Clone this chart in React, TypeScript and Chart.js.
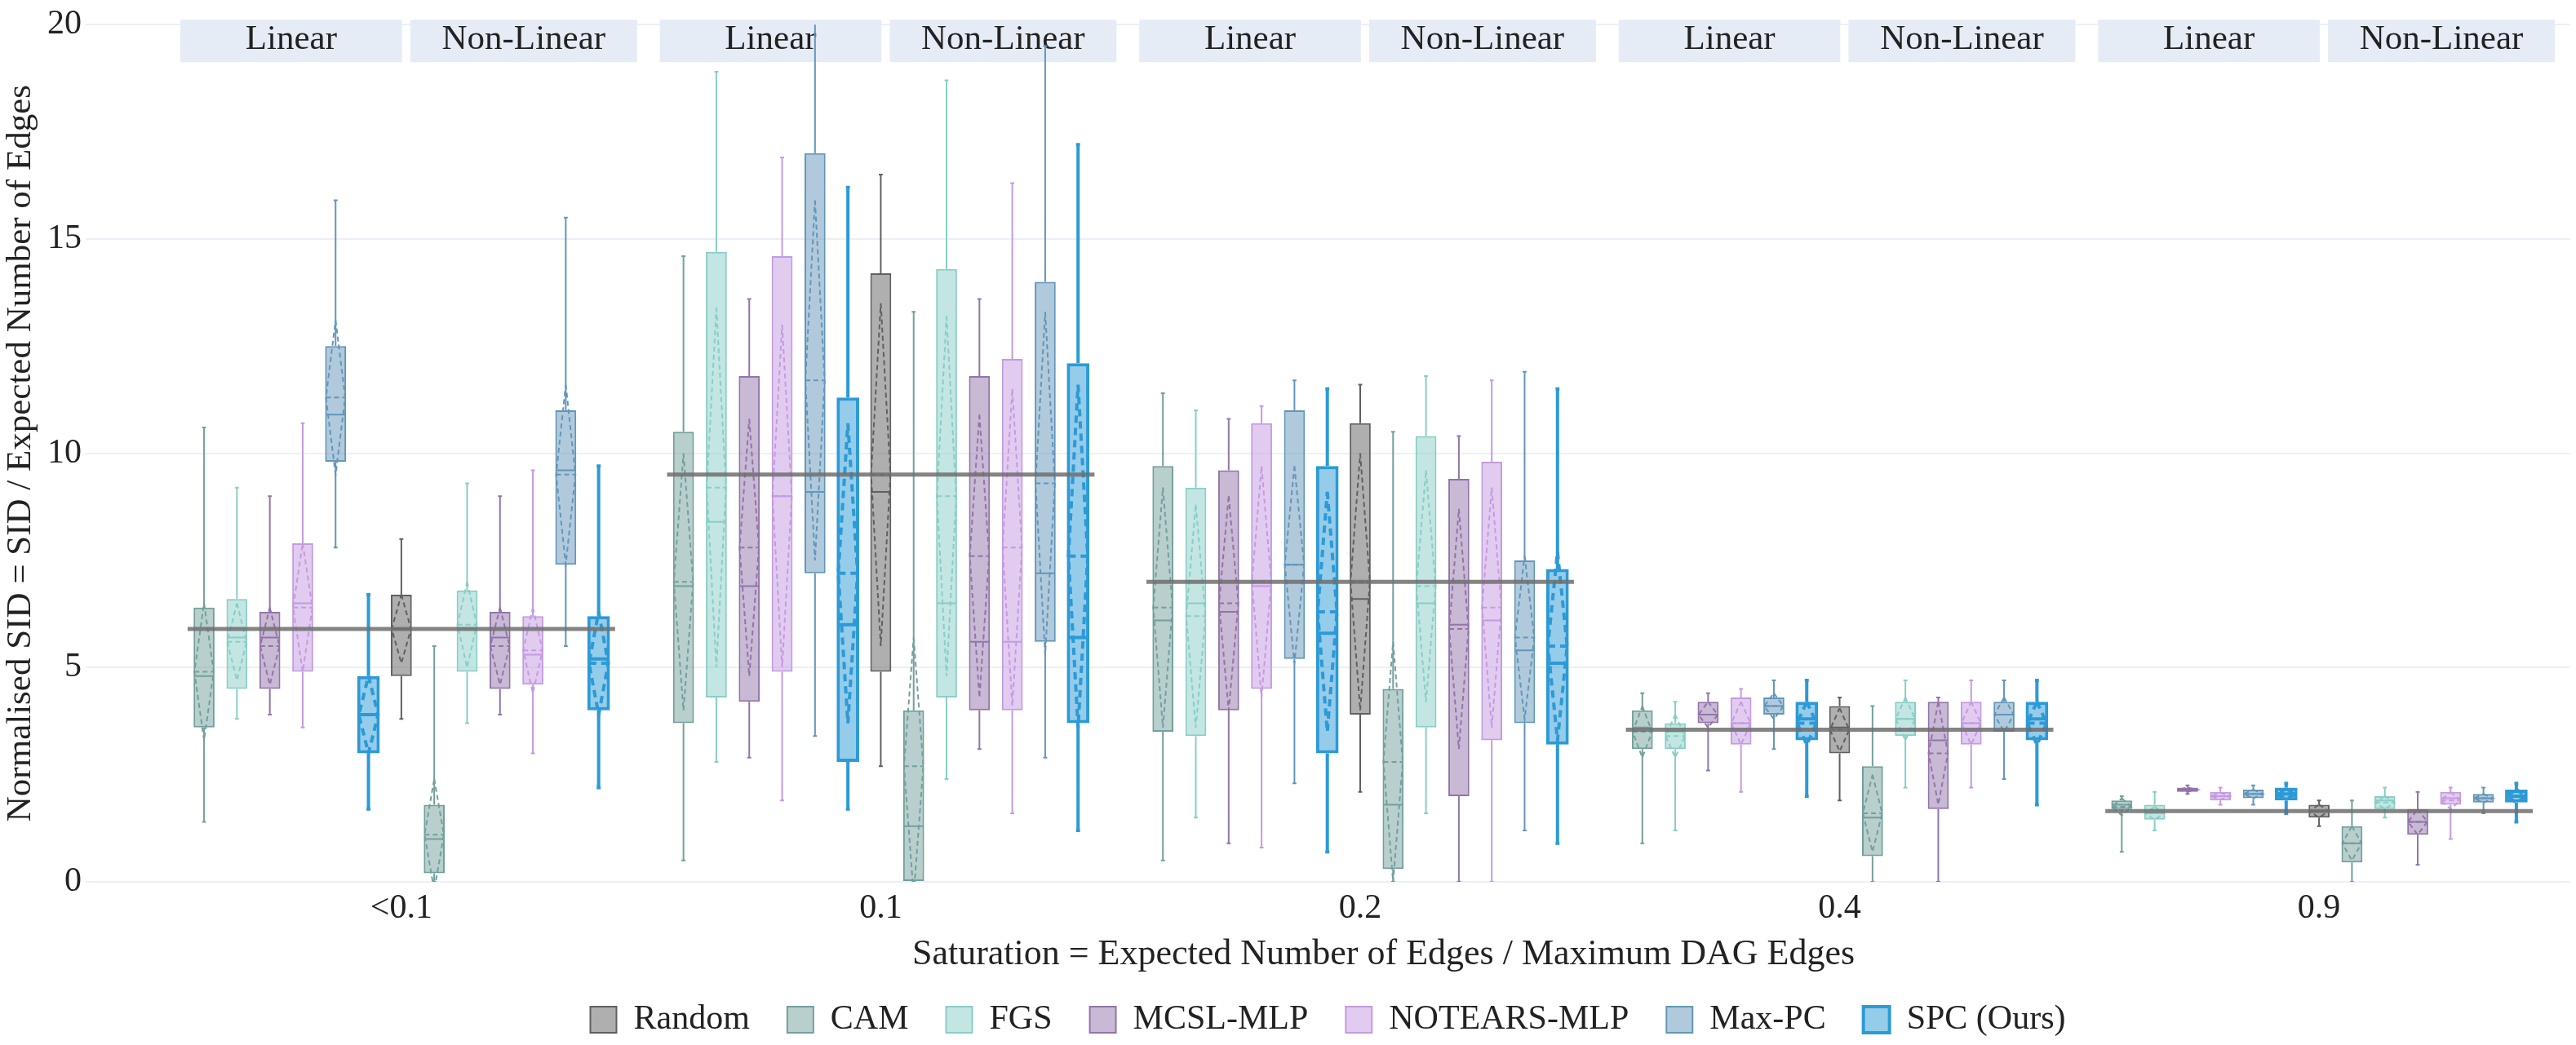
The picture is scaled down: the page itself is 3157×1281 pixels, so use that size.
import React, { useEffect, useRef } from 'react';
import { Chart, registerables } from 'chart.js';

Chart.register(...registerables);

// ---------------- data ----------------
const saturationLabels = ['<0.1', '0.1', '0.2', '0.4', '0.9'];
const methodNames = ['Random', 'CAM', 'FGS', 'MCSL-MLP', 'NOTEARS-MLP', 'Max-PC', 'SPC (Ours)'];
const facetLabels = ['Linear', 'Non-Linear'];
const xTitle = 'Saturation = Expected Number of Edges / Maximum DAG Edges';
const yTitle = 'Normalised SID = SID / Expected Number of Edges';

// each row: [min, q1, median, q3, max, mean, sd] for one saturation group
const randomStats = [
  [3.8, 4.8, 5.9, 6.7, 8.0, 5.9, 0.8],
  [2.7, 4.9, 9.1, 14.2, 16.5, 9.5, 4.0],
  [2.1, 3.9, 6.6, 10.7, 11.6, 7.0, 3.0],
  [1.9, 3.0, 3.6, 4.1, 4.3, 3.55, 0.5],
  [1.3, 1.5, 1.65, 1.8, 1.9, 1.65, 0.15],
];
const camLinear = [
  [1.4, 3.6, 4.8, 6.4, 10.6, 4.9, 1.6],
  [0.5, 3.7, 6.9, 10.5, 14.6, 7.0, 3.0],
  [0.5, 3.5, 6.1, 9.7, 11.4, 6.4, 2.8],
  [0.9, 3.1, 3.6, 4.0, 4.4, 3.5, 0.6],
  [0.7, 1.7, 1.8, 1.9, 2.0, 1.75, 0.2],
];
const camNonLinear = [
  [0.0, 0.2, 1.0, 1.8, 5.5, 1.1, 1.3],
  [0.0, 0.0, 1.3, 4.0, 13.3, 2.7, 3.0],
  [0.0, 0.3, 1.8, 4.5, 10.5, 2.8, 2.8],
  [0.0, 0.6, 1.5, 2.7, 4.1, 1.6, 0.9],
  [0.0, 0.45, 0.9, 1.3, 1.9, 0.9, 0.4],
];
const fgsLinear = [
  [3.8, 4.5, 5.7, 6.6, 9.2, 5.6, 0.9],
  [2.8, 4.3, 8.4, 14.7, 18.9, 9.2, 4.2],
  [1.5, 3.4, 6.5, 9.2, 11.0, 6.2, 2.6],
  [1.2, 3.1, 3.5, 3.7, 4.2, 3.4, 0.5],
  [1.2, 1.45, 1.6, 1.8, 2.1, 1.6, 0.15],
];
const fgsNonLinear = [
  [3.7, 4.9, 5.9, 6.8, 9.3, 6.0, 1.0],
  [2.4, 4.3, 6.5, 14.3, 18.7, 9.0, 4.2],
  [1.6, 3.6, 6.5, 10.4, 11.8, 6.9, 2.7],
  [2.2, 3.4, 3.8, 4.2, 4.7, 3.8, 0.5],
  [1.5, 1.7, 1.9, 2.0, 2.2, 1.85, 0.15],
];
const mcslLinear = [
  [3.9, 4.5, 5.7, 6.3, 9.0, 5.5, 0.9],
  [2.9, 4.2, 6.9, 11.8, 13.6, 7.8, 3.0],
  [0.9, 4.0, 6.3, 9.6, 10.8, 6.5, 2.5],
  [2.6, 3.7, 3.9, 4.2, 4.4, 3.9, 0.3],
  [2.05, 2.1, 2.15, 2.2, 2.25, 2.15, 0.05],
];
const mcslNonLinear = [
  [3.9, 4.5, 5.7, 6.3, 9.0, 5.5, 0.9],
  [3.1, 4.0, 5.6, 11.8, 13.6, 7.6, 3.3],
  [0.0, 2.0, 6.0, 9.4, 10.4, 5.9, 2.8],
  [0.0, 1.7, 3.3, 4.2, 4.3, 3.0, 1.2],
  [0.4, 1.1, 1.4, 1.7, 2.1, 1.4, 0.3],
];
const notearsLinear = [
  [3.6, 4.9, 6.5, 7.9, 10.7, 6.4, 1.5],
  [1.9, 4.9, 9.0, 14.6, 16.9, 9.0, 4.0],
  [0.8, 4.5, 6.9, 10.7, 11.1, 7.0, 2.7],
  [2.1, 3.2, 3.7, 4.3, 4.5, 3.7, 0.5],
  [1.8, 1.9, 2.0, 2.1, 2.2, 2.0, 0.08],
];
const notearsNonLinear = [
  [3.0, 4.6, 5.3, 6.2, 9.6, 5.4, 1.0],
  [1.6, 4.0, 5.6, 12.2, 16.3, 7.8, 3.7],
  [0.0, 3.3, 6.1, 9.8, 11.7, 6.4, 2.8],
  [2.2, 3.2, 3.7, 4.2, 4.7, 3.7, 0.5],
  [1.0, 1.8, 1.95, 2.1, 2.2, 1.9, 0.2],
];
const maxpcLinear = [
  [7.8, 9.8, 10.9, 12.5, 15.9, 11.3, 1.8],
  [3.4, 7.2, 9.1, 17.0, 21.0, 11.7, 4.2],
  [2.3, 5.2, 7.4, 11.0, 11.7, 7.4, 2.3],
  [3.1, 3.9, 4.1, 4.3, 4.7, 4.1, 0.3],
  [1.8, 1.95, 2.05, 2.15, 2.25, 2.05, 0.1],
];
const maxpcNonLinear = [
  [5.5, 7.4, 9.6, 11.0, 15.5, 9.5, 2.1],
  [2.9, 5.6, 7.2, 14.0, 19.5, 9.3, 4.0],
  [1.2, 3.7, 5.4, 7.5, 11.9, 5.7, 1.9],
  [2.4, 3.5, 3.9, 4.2, 4.7, 3.9, 0.4],
  [1.6, 1.85, 1.95, 2.05, 2.2, 1.95, 0.1],
];
const spcLinear = [
  [1.7, 3.0, 3.9, 4.8, 6.7, 3.9, 0.9],
  [1.7, 2.8, 6.0, 11.3, 16.2, 7.2, 3.5],
  [0.7, 3.0, 5.8, 9.7, 11.5, 6.3, 2.8],
  [2.0, 3.3, 3.8, 4.2, 4.7, 3.7, 0.5],
  [1.6, 1.9, 2.05, 2.2, 2.3, 2.05, 0.12],
];
const spcNonLinear = [
  [2.2, 4.0, 5.2, 6.2, 9.7, 5.1, 1.2],
  [1.2, 3.7, 5.7, 12.1, 17.2, 7.6, 4.0],
  [0.9, 3.2, 5.1, 7.3, 11.5, 5.5, 2.2],
  [1.8, 3.3, 3.8, 4.2, 4.7, 3.7, 0.5],
  [1.4, 1.85, 2.0, 2.15, 2.3, 2.0, 0.15],
];

const linearStats = [null, camLinear, fgsLinear, mcslLinear, notearsLinear, maxpcLinear, spcLinear];
const nonLinearStats = [null, camNonLinear, fgsNonLinear, mcslNonLinear, notearsNonLinear, maxpcNonLinear, spcNonLinear];

// ---------------- styles ----------------
const methodRGB = [
  [96, 96, 96],
  [114, 160, 156],
  [136, 206, 198],
  [146, 116, 170],
  [196, 154, 226],
  [98, 150, 186],
  [44, 154, 214],
];
const methodLineWidths = [2, 2, 2, 2, 2, 2, 4];
const methodDash = [[6, 4], [6, 4], [6, 4], [6, 4], [6, 4], [6, 4], [9, 6]];
const FONT = '"Liberation Serif", "Times New Roman", serif';
const TEXT = '#222222';
const GRID = '#EBF0F8';
const STRIP = '#E6ECF5';
const GROUP_SPACING = 14.58;
const HALF_W = 0.294;
const CAP = 0.06;
const stripSpans = [[-6.72, 0.02], [0.27, 7.17]];

const groupCenters = saturationLabels.map((_, i) => i * GROUP_SPACING);
const rgb = (c: number[], a = 1) => `rgba(${c[0]},${c[1]},${c[2]},${a})`;

function buildDatasets() {
  const boxDs: any[] = [];
  const extraDs: any[] = [];
  methodNames.forEach((name, m) => {
    const boxes: { x: number; s: number[] }[] = [];
    groupCenters.forEach((c, g) => {
      if (m === 0) {
        boxes.push({ x: c, s: randomStats[g] });
      } else {
        boxes.push({ x: c - (7 - m), s: (linearStats[m] as number[][])[g] });
        boxes.push({ x: c + m, s: (nonLinearStats[m] as number[][])[g] });
      }
    });
    const col = methodRGB[m];
    const lw = methodLineWidths[m];
    boxDs.push({
      type: 'bar',
      label: name,
      data: boxes.map((b) => ({ x: b.x, y: [b.s[1], b.s[3]] })),
      backgroundColor: rgb(col, 0.5),
      borderColor: rgb(col),
      borderWidth: lw,
      borderSkipped: false,
      grouped: false,
      categoryPercentage: 1,
      barPercentage: m === 6 ? 0.687 : 0.638,
      order: 3,
    });
    const whisk: any[] = [];
    const med: any[] = [];
    const dia: any[] = [];
    boxes.forEach(({ x, s }) => {
      const [mn, q1, md, q3, mx, mean, sd] = s;
      whisk.push({ x, y: q3 }, { x, y: mx }, { x, y: null });
      whisk.push({ x: x - CAP, y: mx }, { x: x + CAP, y: mx }, { x, y: null });
      whisk.push({ x, y: q1 }, { x, y: mn }, { x, y: null });
      whisk.push({ x: x - CAP, y: mn }, { x: x + CAP, y: mn }, { x, y: null });
      med.push({ x: x - HALF_W, y: md }, { x: x + HALF_W, y: md }, { x, y: null });
      dia.push(
        { x, y: mean + sd },
        { x: x + HALF_W, y: mean },
        { x, y: mean - sd },
        { x: x - HALF_W, y: mean },
        { x, y: mean + sd },
        { x, y: null },
        { x: x - HALF_W, y: mean },
        { x: x + HALF_W, y: mean },
        { x, y: null }
      );
    });
    const common = {
      type: 'line',
      borderColor: rgb(col),
      borderWidth: lw,
      pointRadius: 0,
      pointHoverRadius: 0,
      pointHitRadius: 0,
      fill: false,
      tension: 0,
      spanGaps: false,
      borderCapStyle: 'butt',
    };
    extraDs.push({ ...common, label: '_whisker', data: whisk, order: 4 });
    extraDs.push({ ...common, label: '_median', data: med, order: 2 });
    extraDs.push({ ...common, label: '_mean', data: dia, borderDash: methodDash[m], order: 1 });
  });
  const randomLine: any[] = [];
  groupCenters.forEach((c, g) => {
    const mean = randomStats[g][5];
    randomLine.push({ x: c - 6.5, y: mean }, { x: c + 6.5, y: mean }, { x: c, y: null });
  });
  extraDs.push({
    type: 'line',
    label: '_randomMean',
    data: randomLine,
    borderColor: 'rgba(110,110,110,0.85)',
    borderWidth: 5,
    pointRadius: 0,
    pointHitRadius: 0,
    fill: false,
    spanGaps: false,
    order: 0,
  });
  return [...boxDs, ...extraDs];
}

const stripPlugin = {
  id: 'facetStrips',
  beforeDatasetsDraw(chart: any) {
    const { ctx, chartArea, scales } = chart;
    const x = scales.x;
    ctx.save();
    groupCenters.forEach((c) => {
      stripSpans.forEach(([a, b], i) => {
        const x0 = x.getPixelForValue(c + a);
        const x1 = x.getPixelForValue(c + b);
        ctx.fillStyle = STRIP;
        ctx.fillRect(x0, chartArea.top - 6, x1 - x0, 52);
        ctx.fillStyle = TEXT;
        ctx.font = `43px ${FONT}`;
        ctx.textAlign = 'center';
        ctx.textBaseline = 'alphabetic';
        ctx.fillText(facetLabels[i], (x0 + x1) / 2, chartArea.top + 30);
      });
    });
    ctx.restore();
  },
  afterDraw(chart: any) {
    const { ctx, scales } = chart;
    const x = scales.x;
    ctx.save();
    ctx.fillStyle = TEXT;
    ctx.font = `44px ${FONT}`;
    ctx.textAlign = 'center';
    ctx.textBaseline = 'middle';
    ctx.fillText(xTitle, (x.left + x.right) / 2 + 68, x.top + 89);
    ctx.restore();
  },
};

export default function App() {
  const ref = useRef<HTMLCanvasElement | null>(null);
  useEffect(() => {
    if (!ref.current) return;
    Chart.defaults.font.family = FONT;
    const chart = new Chart(ref.current, {
      type: 'bar',
      data: { datasets: buildDatasets() },
      options: {
        animation: false,
        responsive: false,
        devicePixelRatio: 1,
        layout: { padding: { top: 20, right: 7, left: 0, bottom: 0 } },
        plugins: {
          legend: {
            position: 'bottom',
            fullSize: false,
            labels: {
              filter: (item: any) => !String(item.text).startsWith('_'),
              font: { size: 42, family: FONT },
              color: TEXT,
              boxWidth: 32,
              boxHeight: 32,
              padding: 46,
            },
          },
          tooltip: { enabled: false },
        },
        scales: {
          x: {
            type: 'linear',
            offset: false,
            min: -9.6,
            max: 65.96,
            grid: { display: false },
            border: { display: false },
            afterBuildTicks: (s: any) => {
              s.ticks = groupCenters.map((v) => ({ value: v }));
            },
            afterFit: (s: any) => {
              s.height = 102;
            },
            ticks: {
              callback: (_v: any, i: number) => saturationLabels[i],
              font: { size: 42, family: FONT },
              color: TEXT,
              padding: 0,
              maxRotation: 0,
              autoSkip: false,
            },
            title: { display: false },
          },
          y: {
            min: 0,
            max: 20,
            afterFit: (s: any) => {
              s.width = 105;
            },
            ticks: { stepSize: 5, font: { size: 42, family: FONT }, color: TEXT, padding: 5 },
            grid: { color: GRID, lineWidth: 2, drawTicks: false },
            border: { display: false },
            title: {
              display: true,
              text: yTitle,
              font: { size: 43, family: FONT },
              color: TEXT,
              padding: 0,
            },
          },
        },
      } as any,
      plugins: [stripPlugin],
    } as any);
    return () => chart.destroy();
  }, []);
  return (
    <div style={{ position: 'fixed', left: 0, top: 0, width: 3157, height: 1281, background: '#fff' }}>
      <canvas ref={ref} width={3157} height={1281} />
    </div>
  );
}
